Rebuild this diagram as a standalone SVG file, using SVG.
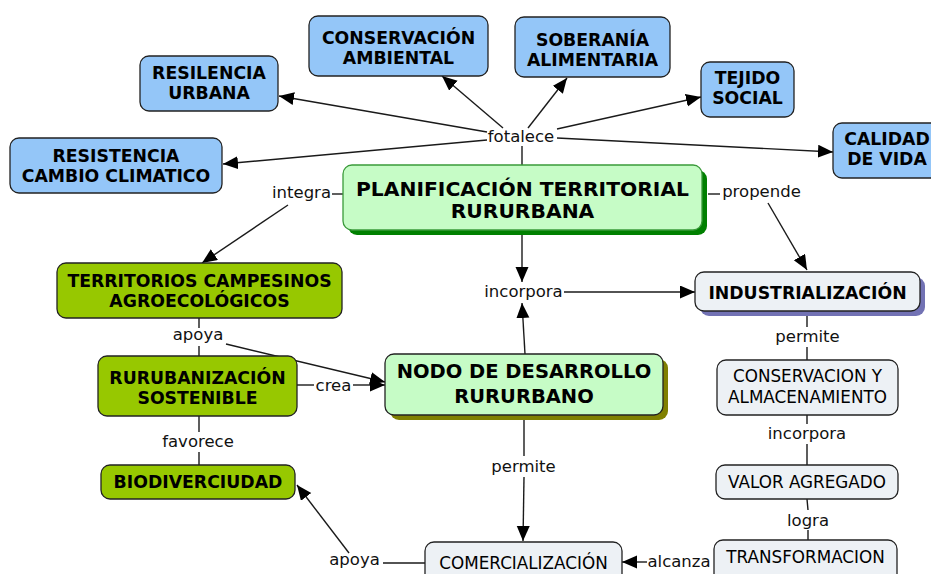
<svg xmlns="http://www.w3.org/2000/svg" width="931" height="574" viewBox="0 0 931 574">
<defs>
<marker id="ah" markerUnits="userSpaceOnUse" markerWidth="16" markerHeight="14" refX="15" refY="6.5" orient="auto">
<path d="M0,0 L15,6.5 L0,13 z" fill="#000"/>
</marker>
<style>
.ln{stroke:#1a1a1a;stroke-width:1.4;fill:none}
.ar{stroke:#1a1a1a;stroke-width:1.4;fill:none;marker-end:url(#ah)}
.blue{fill:#94c6f8;stroke:#222;stroke-width:1.3}
.dg{fill:#97c800;stroke:#222;stroke-width:1.3}
.lg{fill:#c6fcc6;stroke:#3a9a3a;stroke-width:1.3}
.lgn{fill:#c6fcc6;stroke:#222;stroke-width:1.3}
.gr{fill:#edf1f5;stroke:#222;stroke-width:1.3}
.b{font-family:"DejaVu Sans",Verdana,sans-serif;font-weight:bold;font-size:17.3px;fill:#000;text-anchor:middle}
.bb{font-family:"DejaVu Sans",Verdana,sans-serif;font-weight:bold;font-size:20.3px;fill:#000;text-anchor:middle}
.bn{font-family:"DejaVu Sans",Verdana,sans-serif;font-weight:bold;font-size:19.5px;fill:#000;text-anchor:middle}
.r{font-family:"DejaVu Sans",Verdana,sans-serif;font-size:16.8px;fill:#000;text-anchor:middle}
.lb{font-family:"DejaVu Sans",Verdana,sans-serif;font-size:16.5px;fill:#111;text-anchor:middle}
</style>
</defs>
<rect width="931" height="574" fill="#fff"/>
<g id="connectors">
<path class="ln" d="M522,146 L522,165"/>
<path class="ar" d="M503,128 L442,76"/>
<path class="ar" d="M487,132 L279,96"/>
<path class="ar" d="M487,140 L223,164"/>
<path class="ar" d="M528,128 L567,78"/>
<path class="ar" d="M557,129 L701,97"/>
<path class="ar" d="M557,138 L833,152"/>
<path class="ln" d="M332,194 L343,194"/>
<path class="ar" d="M288,205 L202,263"/>
<path class="ln" d="M708,194 L720,194"/>
<path class="ar" d="M768,203 L807,270"/>
<path class="ar" d="M522,235 L522,282"/>
<path class="ar" d="M564,292 L695,292"/>
<path class="ar" d="M525,354 L522,303"/>
<path class="ln" d="M807,311 L807,327 M807,347 L807,360"/>
<path class="ln" d="M807,415 L807,424 M807,444 L807,465"/>
<path class="ln" d="M807,499 L808,510 M808,530 L808,540"/>
<path class="ln" d="M524,420 L524,456"/>
<path class="ar" d="M524,477 L523,541"/>
<path class="ln" d="M383,563 L425,563"/>
<path class="ar" d="M349,553 L297,485"/>
<path class="ar" d="M647,562 L622,562"/>
<path class="ln" d="M199,318 L199,328 M199,346 L199,356"/>
<path class="ar" d="M226,344 L385,382"/>
<path class="ln" d="M297,385 L314,385"/>
<path class="ar" d="M353,385 L385,385"/>
<path class="ln" d="M199,416 L199,432 M199,452 L199,465"/>
<text class="lb" x="521" y="142">fotalece</text>
<text class="lb" x="301.5" y="198">integra</text>
<text class="lb" x="761.5" y="197">propende</text>
<text class="lb" x="523.5" y="297">incorpora</text>
<text class="lb" x="807.5" y="342">permite</text>
<text class="lb" x="807" y="439">incorpora</text>
<text class="lb" x="808" y="526">logra</text>
<text class="lb" x="523.5" y="472">permite</text>
<text class="lb" x="354.5" y="565">apoya</text>
<text class="lb" x="679" y="567">alcanza</text>
<text class="lb" x="198" y="340">apoya</text>
<text class="lb" x="333.5" y="391">crea</text>
<text class="lb" x="198" y="447">favorece</text>
</g>
<g id="n_conservacion_ambiental">
<rect class="blue" x="309" y="16" width="179" height="60" rx="9"/>
<text class="b" x="398.5" y="44">CONSERVACIÓN</text>
<text class="b" x="398.5" y="64">AMBIENTAL</text>
</g>
<g id="n_resiliencia">
<rect class="blue" x="140" y="56" width="138" height="55" rx="9"/>
<text class="b" x="209" y="79">RESILENCIA</text>
<text class="b" x="209" y="99">URBANA</text>
</g>
<g id="n_resistencia">
<rect class="blue" x="10" y="138" width="212" height="55" rx="9"/>
<text class="b" x="116" y="162">RESISTENCIA</text>
<text class="b" x="116" y="182">CAMBIO CLIMATICO</text>
</g>
<g id="n_soberania">
<rect class="blue" x="515" y="17" width="155" height="60" rx="9"/>
<text class="b" x="592.5" y="46">SOBERANÍA</text>
<text class="b" x="592.5" y="66">ALIMENTARIA</text>
</g>
<g id="n_tejido">
<rect class="blue" x="701" y="62" width="93" height="55" rx="9"/>
<text class="b" x="747.5" y="84">TEJIDO</text>
<text class="b" x="747.5" y="104">SOCIAL</text>
</g>
<g id="n_calidad">
<rect class="blue" x="833" y="123" width="110" height="55" rx="9"/>
<text class="b" x="887" y="145">CALIDAD</text>
<text class="b" x="887" y="165">DE VIDA</text>
</g>
<g id="n_planificacion">
<rect x="348" y="170" width="359" height="65" rx="9" fill="#008000"/>
<rect class="lg" x="343" y="165" width="359" height="65" rx="9"/>
<text class="bb" x="522.5" y="196">PLANIFICACIÓN TERRITORIAL</text>
<text class="bb" x="522.5" y="218">RURURBANA</text>
</g>
<g id="n_nodo">
<rect x="390" y="359" width="278" height="61" rx="9" fill="#808000"/>
<rect class="lgn" x="385" y="354" width="278" height="61" rx="9"/>
<text class="bn" x="524" y="378">NODO DE DESARROLLO</text>
<text class="bn" x="524" y="403">RURURBANO</text>
</g>
<g id="n_territorios">
<rect class="dg" x="57" y="263" width="285" height="55" rx="9"/>
<text class="b" x="199.5" y="287">TERRITORIOS CAMPESINOS</text>
<text class="b" x="199.5" y="307">AGROECOLÓGICOS</text>
</g>
<g id="n_rurubanizacion">
<rect class="dg" x="98" y="356" width="199" height="60" rx="9"/>
<text class="b" x="197.5" y="384">RURUBANIZACIÓN</text>
<text class="b" x="197.5" y="404">SOSTENIBLE</text>
</g>
<g id="n_biodiverciudad">
<rect class="dg" x="101" y="465" width="194" height="34" rx="9"/>
<text class="b" x="198" y="488">BIODIVERCIUDAD</text>
</g>
<g id="n_industrializacion">
<rect x="700" y="277" width="225" height="39" rx="9" fill="#7272b4"/>
<rect class="gr" x="695" y="272" width="225" height="39" rx="9"/>
<text class="b" x="807.5" y="299">INDUSTRIALIZACIÓN</text>
</g>
<g id="n_conservacion_almacenamiento">
<rect class="gr" x="717" y="360" width="181" height="55" rx="9"/>
<text class="r" x="807.5" y="382">CONSERVACION Y</text>
<text class="r" x="807.5" y="403">ALMACENAMIENTO</text>
</g>
<g id="n_valor">
<rect class="gr" x="716" y="465" width="182" height="34" rx="9"/>
<text class="r" x="807" y="488">VALOR AGREGADO</text>
</g>
<g id="n_transformacion">
<rect class="gr" x="714" y="540" width="183" height="44" rx="9"/>
<text class="r" x="805.5" y="563">TRANSFORMACION</text>
</g>
<g id="n_comercializacion">
<rect class="gr" x="425" y="542" width="197" height="44" rx="9"/>
<text class="r" x="523.5" y="569">COMERCIALIZACIÓN</text>
</g>
</svg>
